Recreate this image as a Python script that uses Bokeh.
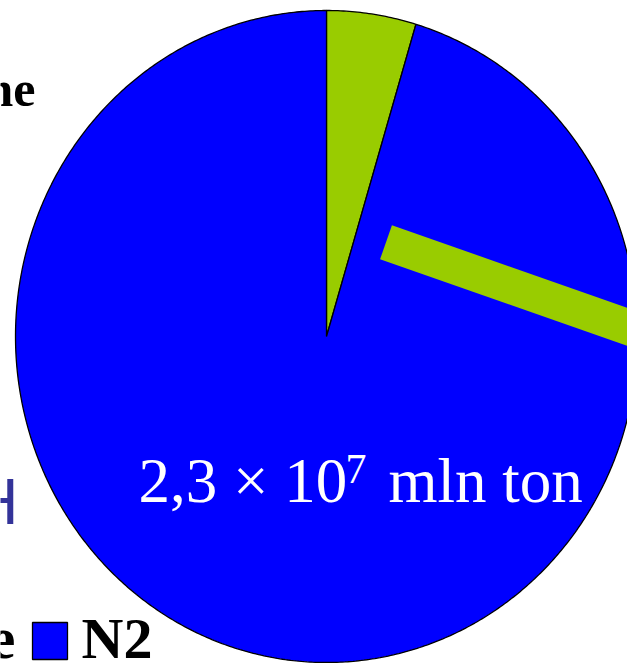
import numpy as np
from bokeh.plotting import figure
from bokeh.models import Range1d
from bokeh.core.properties import value
from bokeh.embed import file_html
from bokeh.resources import INLINE

# Mass of the atmosphere's components (mln ton), clockwise from 12 o'clock
slice_names = ["overig", "N2"]
slice_mass = [1.12e6, 2.3e7]
slice_colors = ["#99CC00", "#0000FF"]

# Label of the N2 slice: mantissa, exponent, unit
n2_label_main = "2,3 \u00d7 10"
n2_label_exp = "7"
n2_label_unit = "mln ton"

# Legend entries partly visible at the left edge
legend_swatch_label = "N2"

W, H = 627, 663
p = figure(width=W, height=H, output_backend="svg", toolbar_location=None,
           x_range=Range1d(0, W), y_range=Range1d(H, 0),
           x_axis_location=None, y_axis_location=None,
           min_border=0, outline_line_color=None)
p.grid.visible = False
p.background_fill_color = "white"
p.border_fill_color = "white"

# Pie geometry (slightly taller than wide)
cx, cy, rx, ry = 326, 336, 311, 326

total = sum(slice_mass)
start = 0.0
xs, ys = [], []
for m in slice_mass:
    stop = start + 2 * np.pi * m / total
    t = np.linspace(start, stop, max(int((stop - start) / (2 * np.pi) * 720), 4))
    px = np.concatenate([[cx], cx + rx * np.sin(t), [cx]])
    py = np.concatenate([[cy], cy - ry * np.cos(t), [cy]])
    xs.append(list(px))
    ys.append(list(py))
    start = stop

p.patches(xs, ys, fill_color=slice_colors, line_color="black", line_width=1.3)

# Green callout bar across the N2 slice
bar_x0, bar_y0, bar_angle = 385.5, 241.8, np.deg2rad(19.3)
p.segment(x0=[bar_x0], y0=[bar_y0],
          x1=[bar_x0 + 400 * np.cos(bar_angle)], y1=[bar_y0 + 400 * np.sin(bar_angle)],
          line_color="#99CC00", line_width=36, line_cap="butt")

serif = value("Liberation Serif")


def label(x, baseline, txt, size, **kw):
    # the renderer places the alphabetic baseline about 0.355 em low
    p.text(x=[x], y=[baseline - 0.355 * size], text=[txt],
           text_font_size=f"{size}px", text_baseline="alphabetic", **kw)


# N2 mass label
label(138, 503, n2_label_main, 63, text_font=serif, text_color="white")
label(345, 483, n2_label_exp, 42, text_font=serif, text_color="white")
label(388, 503, n2_label_unit, 63, text_font=serif, text_color="white")

# Texts cut by the left edge
label(35, 106, "ne", 50, text_font=serif, text_font_style="bold",
      text_color="black", text_align="right")
label(18, 524, "H", 64, text_font=value("Liberation Sans"),
      text_color="#333399", text_align="right")
label(15, 659, "e", 60, text_font=serif, text_font_style="bold",
      text_color="black", text_align="right")

# Legend swatch and label
p.rect(x=[49.5], y=[640.5], width=[35], height=[37], fill_color="#0000FF",
       line_color="black", line_width=1.3)
label(81, 659, legend_swatch_label, 58, text_font=serif,
      text_font_style="bold", text_color="black")

open("out.html", "w").write(file_html(p, INLINE))
